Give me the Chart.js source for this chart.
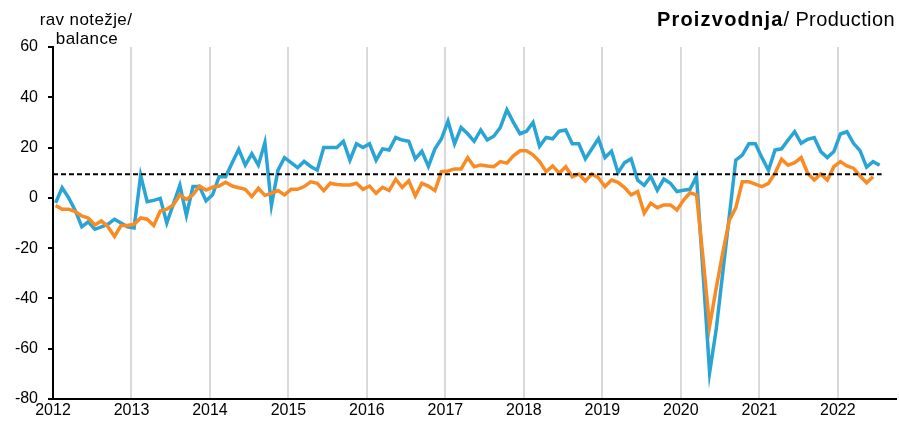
<!DOCTYPE html>
<html>
<head>
<meta charset="utf-8">
<script src="https://cdn.jsdelivr.net/npm/chart.js@4.4.1/dist/chart.umd.min.js"></script>
<style>
  html, body { margin: 0; padding: 0; background: #fff; }
  #wrap { width: 899px; height: 421px; }
</style>
</head>
<body>
<div id="wrap"><canvas id="chart" width="899" height="421"></canvas></div>
<script>
// tick labels, one per January
const years = ['2012', '2013', '2014', '2015', '2016', '2017', '2018', '2019', '2020', '2021', '2022'];

// monthly balances, Jan 2012 onward
const seriesBlue = [
  -2, 4, 0, -5, -11.5, -9.5, -12.5, -11.5, -10.5, -8.5, -10, -11.5,
  -12, 9, -1.5, -1, -0.2, -10, -2.5, 5, -7, 4.5, 4.5, -1.2,
  1.2, 8.4, 8.4, 14, 19.3, 13, 17.5, 13, 22, -3, 11, 16,
  14, 12, 14.5, 12.5, 11, 20, 20, 20, 22.5, 15, 21.5, 20,
  21.5, 15, 19.5, 19, 24, 23, 22.5, 15.5, 18.5, 12.5, 19.5, 23.5,
  30.5, 21.5, 28, 25.5, 22.5, 27, 23, 24.5, 28, 35, 30, 25.5,
  26.5, 30, 20.5, 24, 23.5, 26.5, 27, 21.5, 21.5, 15.5, 19.5, 23.5,
  16, 18.5, 10, 14, 15.5, 7, 5, 8.5, 3, 7.5, 5.8, 2.5,
  3, 3.4, 8.5, -30, -69.5, -52.5, -30, -7.5, 15, 17, 21.5, 21.5,
  16, 11, 19, 19.5, 23, 26.3, 21.7, 23.3, 24, 18.4, 16, 18.4,
  25.4, 26.3, 21.7, 18.8, 12.2, 14.4, 13
];

const seriesOrange = [
  -3, -4.5, -4.5, -5.5, -7.2, -8, -10.8, -9.2, -11.5, -15.4, -11, -11,
  -10.5, -8, -8.5, -11, -5.2, -4.5, -2.8, 1.2, -0.6, 1.2, 4.7, 3.1,
  4.2, 4.7, 6.2, 4.7, 4, 3.4, 0.5, 3.8, 1, 1.8, 2.9, 1.2,
  3.4, 3.4, 4.5, 6.4, 5.8, 2.9, 5.8, 5.3, 5.1, 5.1, 5.8, 3.4,
  4.7, 1.8, 4.2, 2.9, 7.4, 4.2, 6.8, 0.8, 5.8, 4.7, 2.9, 10.4,
  10.7, 11.5, 11.5, 16, 12.4, 13.1, 12.7, 12.4, 14.4, 13.8, 16.7, 18.7,
  18.7, 17.1, 14.4, 10.4, 12.7, 9.8, 12.4, 8.4, 9.5, 6.7, 9.5, 8,
  4.5, 7.1, 6.2, 4.1, 1.2, 2.5, -6.1, -2.1, -3.9, -2.8, -2.8, -4.8,
  -1, 2, 1.2, -24, -51, -36, -22, -9, -4, 6.4, 6.4, 5.5,
  4.5, 5.8, 9.8, 15.4, 13, 14, 16, 9.8, 7.1, 9.5, 7.1, 12.4,
  14.4, 12.7, 11.8, 8.7, 6, 8.4
];

// long-term average (dashed line)
const averageLevel = 9.4;

const monthShift = 0.4; // points sit a little after the January gridline

const toPoints = (arr) => arr.map((v, i) => ({ x: i + monthShift, y: v }));

const lastMonth = seriesBlue.length - 1 + monthShift + 0.3;

const headerPlugin = {
  id: 'header',
  afterDraw(chart) {
    const ctx = chart.ctx;
    ctx.save();
    ctx.fillStyle = '#000';
    ctx.textBaseline = 'middle';

    // unit label top left
    ctx.font = '17px "Liberation Sans", Arial, sans-serif';
    ctx.letterSpacing = '0.4px';
    ctx.textAlign = 'center';
    ctx.fillText('rav notežje/', 86, 20);
    ctx.fillText('balance', 87, 39);

    // title top right
    ctx.textAlign = 'right';
    ctx.font = '20px "Liberation Sans", Arial, sans-serif';
    ctx.letterSpacing = '0.4px';
    const rest = '/ Production';
    ctx.fillText(rest, 895, 20);
    const w = ctx.measureText(rest).width;
    ctx.font = 'bold 20px "Liberation Sans", Arial, sans-serif';
    ctx.letterSpacing = '1.2px';
    ctx.fillText('Proizvodnja', 895 - w, 20);
    ctx.restore();
  }
};

const ctx = document.getElementById('chart').getContext('2d');
const chart = new Chart(ctx, {
  type: 'line',
  data: {
    datasets: [
      {
        data: [{ x: 0, y: averageLevel }, { x: lastMonth, y: averageLevel }],
        borderColor: '#000',
        borderWidth: 2,
        borderDash: [5, 3],
        pointRadius: 0
      },
      {
        data: toPoints(seriesOrange),
        borderColor: '#f98b25',
        borderWidth: 3.5,
        pointRadius: 0,
        tension: 0
      },
      {
        data: toPoints(seriesBlue),
        borderColor: '#2aa4d5',
        borderWidth: 3.5,
        pointRadius: 0,
        tension: 0
      }
    ]
  },
  options: {
    responsive: false,
    animation: false,
    layout: { padding: { top: 47, right: 3, left: 0, bottom: 0 } },
    plugins: {
      legend: { display: false },
      tooltip: { enabled: false }
    },
    scales: {
      x: {
        type: 'linear',
        min: 0,
        max: 128.9,
        afterBuildTicks: (scale) => {
          scale.ticks = years.map((y, i) => ({ value: i * 12 }));
        },
        afterFit: (scale) => { scale.height = 22; },
        ticks: {
          color: '#000',
          padding: 2,
          maxRotation: 0,
          autoSkip: false,
          font: { family: '"Liberation Sans", Arial, sans-serif', size: 16 },
          callback: (v) => years[Math.round(v / 12)]
        },
        grid: {
          drawTicks: false,
          lineWidth: 2,
          color: (c) => (c.tick && c.tick.value === 0 ? 'rgba(0,0,0,0)' : '#d9d9d9')
        },
        border: { display: true, color: '#000', width: 2 }
      },
      y: {
        min: -80,
        max: 60,
        afterFit: (scale) => { scale.width = 53; },
        ticks: {
          stepSize: 20,
          color: '#000',
          padding: 10,
          font: { family: '"Liberation Sans", Arial, sans-serif', size: 16 }
        },
        grid: {
          drawOnChartArea: false,
          drawTicks: true,
          tickLength: 5,
          color: '#000',
          lineWidth: 2
        },
        border: { display: true, color: '#000', width: 2 }
      }
    }
  },
  plugins: [headerPlugin]
});
</script>
</body>
</html>
